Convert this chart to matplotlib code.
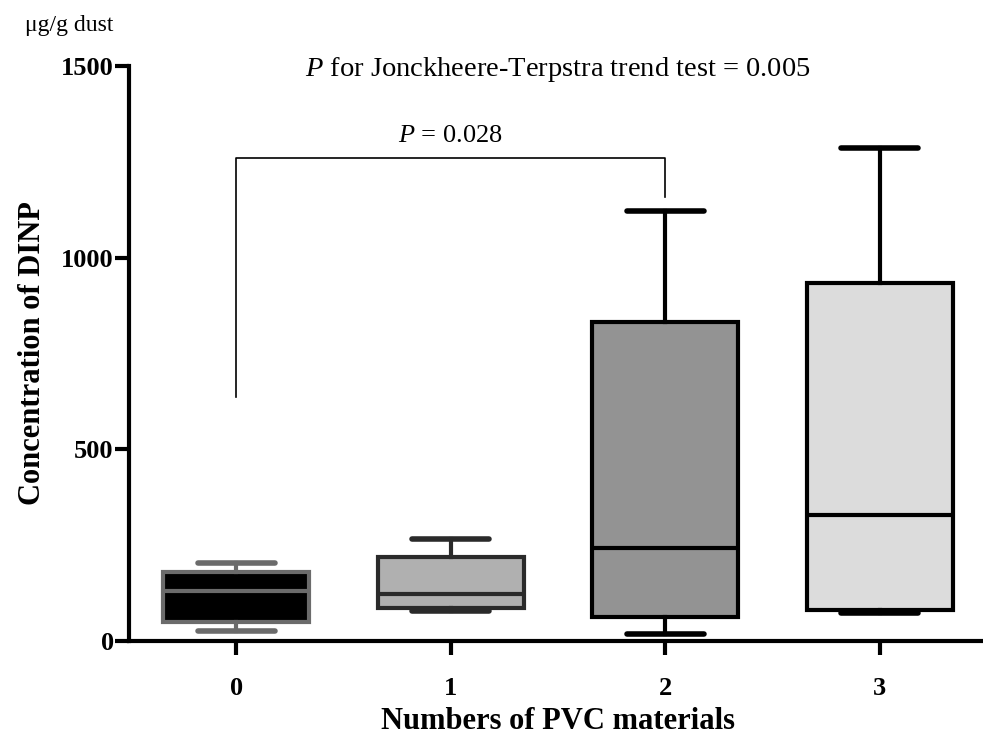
import matplotlib.pyplot as plt

plt.rcParams['font.family'] = ['Liberation Serif', 'DejaVu Serif']
plt.rcParams['mathtext.fontset'] = 'custom'
plt.rcParams['mathtext.rm'] = 'Liberation Serif'
plt.rcParams['mathtext.it'] = 'Liberation Serif:italic'

groups = ['0', '1', '2', '3']
whislo = [27, 78, 18, 72]
q1 = [50, 86, 62, 81]
med = [130, 122, 242, 329]
q3 = [180, 220, 831, 935]
whishi = [203, 266, 1122, 1286]
fills = ['#000000', '#b0b0b0', '#939393', '#dcdcdc']
edges = ['#6b6b6b', '#2a2a2a', '#000000', '#000000']

# bracket for pairwise comparison 0 vs 2
bracket_x = [0, 0, 2, 2]
bracket_y = [637, 1260, 1260, 1158]

stats = []
for i in range(len(groups)):
    stats.append({'whislo': whislo[i], 'q1': q1[i], 'med': med[i],
                  'q3': q3[i], 'whishi': whishi[i], 'fliers': []})

fig = plt.figure(figsize=(9.83, 7.4), dpi=100)
ax = fig.add_axes([0.1312, 0.1338, 0.873, 0.777])

bp = ax.bxp(stats, positions=range(len(groups)), widths=0.68,
            capwidths=0.36, patch_artist=True, showfliers=False)
for i in range(len(groups)):
    bp['boxes'][i].set(facecolor=fills[i], edgecolor=edges[i], linewidth=3)
    bp['medians'][i].set(color=edges[i], linewidth=3)
    for w in bp['whiskers'][2 * i:2 * i + 2]:
        w.set(color=edges[i], linewidth=3)
    for c in bp['caps'][2 * i:2 * i + 2]:
        c.set(color=edges[i], linewidth=4, solid_capstyle='round')

ax.plot(bracket_x, bracket_y, color='black', linewidth=1.2)
ax.text(1, 1290, r'$P$ = 0.028', ha='center', va='bottom', fontsize=19)
ax.text(1.5, 1492, r'$P$ for Jonckheere-Terpstra trend test = 0.005',
        ha='center', va='center', fontsize=20.5)

ax.set_xlim(-0.5, 3.5)
ax.set_ylim(0, 1500)
ax.set_yticks([0, 500, 1000, 1500])
ax.set_xticks(range(len(groups)))
ax.set_xticklabels(groups)
for s in ['top', 'right']:
    ax.spines[s].set_visible(False)
for s in ['left', 'bottom']:
    ax.spines[s].set_linewidth(3)
ax.tick_params(axis='both', width=3, length=10, labelsize=19)
ax.tick_params(axis='x', pad=16)
ax.tick_params(axis='y', pad=1)
for lab in ax.get_xticklabels() + ax.get_yticklabels():
    lab.set_fontweight('bold')

ax.set_xlabel('Numbers of PVC materials', fontsize=22, fontweight='bold',
              labelpad=5)
ax.set_ylabel('Concentration of DINP', fontsize=22, fontweight='bold',
              labelpad=10)
fig.text(0.025, 0.965, 'μg/g dust', fontsize=17, ha='left', va='center')

fig.savefig('out.png', dpi=100)
